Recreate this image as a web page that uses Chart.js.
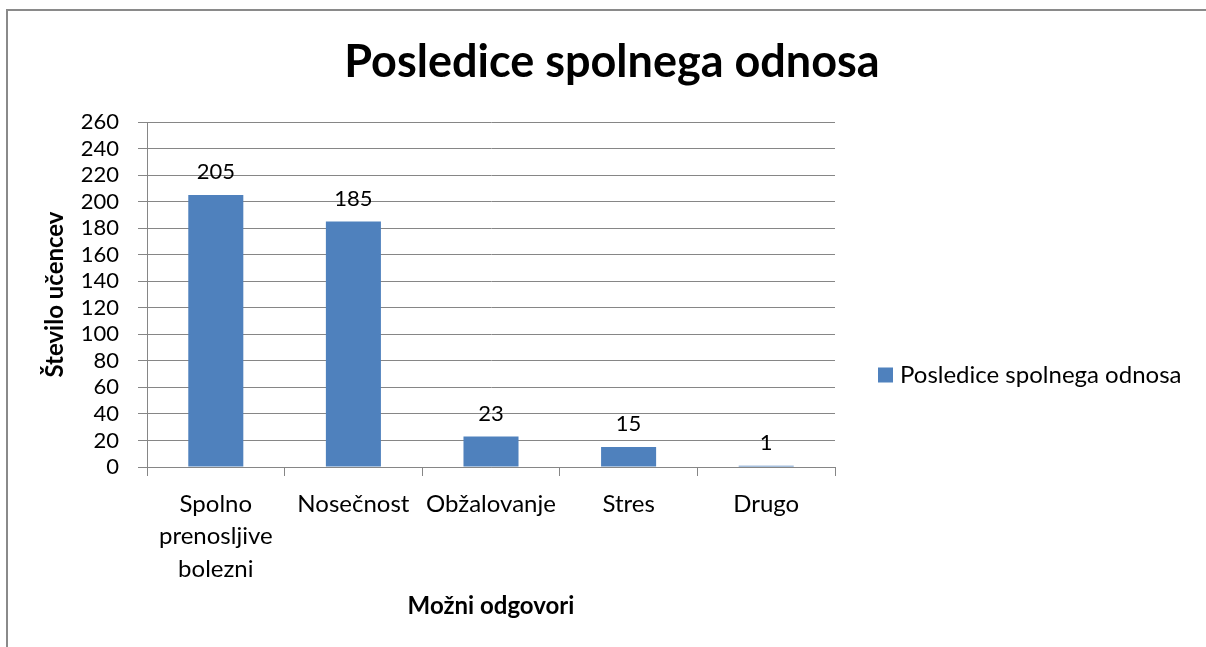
<!DOCTYPE html>
<html>
<head>
<meta charset="utf-8">
<script src="https://cdn.jsdelivr.net/npm/chart.js@4/dist/chart.umd.min.js"></script>
<style>
  html, body { margin: 0; padding: 0; background: #fff; overflow: hidden; }
  #c { display: block; }
</style>
</head>
<body>
<canvas id="c" width="1206" height="647"></canvas>
<script>
const chartTitle = "Posledice spolnega odnosa";
const seriesLabel = "Posledice spolnega odnosa";
const categories = [["Spolno", "prenosljive", "bolezni"], "Nosečnost", "Obžalovanje", "Stres", "Drugo"];
const values = [205, 185, 23, 15, 1];
const yAxisTitle = "Število učencev";
const xAxisTitle = "Možni odgovori";
const yMin = 0, yMax = 260, yStep = 20;

const FONT = "Lato, 'Liberation Sans', sans-serif";
const BAR = "#4F81BD";
const GRID = "#868686";

const framePlugin = {
  id: 'frame',
  beforeDraw(chart) {
    const ctx = chart.ctx;
    ctx.save();
    ctx.fillStyle = '#fff';
    ctx.fillRect(0, 0, chart.width, chart.height);
    ctx.strokeStyle = '#8a8a8a';
    ctx.lineWidth = 2;
    ctx.beginPath();
    ctx.moveTo(7, chart.height);
    ctx.lineTo(7, 10);
    ctx.lineTo(chart.width, 10);
    ctx.stroke();
    ctx.restore();
  }
};

const valueLabels = {
  id: 'valueLabels',
  afterDatasetsDraw(chart) {
    const ctx = chart.ctx;
    ctx.save();
    ctx.font = "22px " + FONT;
    ctx.fillStyle = '#000';
    ctx.textAlign = 'center';
    ctx.textBaseline = 'bottom';
    chart.data.datasets.forEach((ds, di) => {
      chart.getDatasetMeta(di).data.forEach((bar, i) => {
        ctx.fillText(String(ds.data[i]), bar.x, bar.y - 12);
      });
    });
    ctx.restore();
  }
};

const sideLegend = {
  id: 'sideLegend',
  afterDraw(chart) {
    const ctx = chart.ctx;
    const ds = chart.data.datasets[0];
    const cy = 375;
    ctx.save();
    ctx.fillStyle = ds.backgroundColor;
    ctx.fillRect(878, cy - 7.5, 15, 15);
    ctx.fillStyle = '#000';
    ctx.font = "24px " + FONT;
    ctx.textAlign = 'left';
    ctx.textBaseline = 'middle';
    ctx.fillText(ds.label, 900, cy);
    ctx.restore();
  }
};

new Chart(document.getElementById('c'), {
  type: 'bar',
  data: {
    labels: categories,
    datasets: [{
      label: seriesLabel,
      data: values,
      backgroundColor: BAR,
      borderWidth: 0,
      categoryPercentage: 1.0,
      barPercentage: 0.4
    }]
  },
  options: {
    responsive: false,
    animation: false,
    devicePixelRatio: 1,
    layout: { padding: { left: 20, top: 10, right: 2, bottom: 10 } },
    plugins: {
      legend: { display: false },
      tooltip: { enabled: false },
      title: {
        display: true,
        text: chartTitle,
        color: '#000',
        font: { family: FONT, size: 45, weight: 'bold' },
        padding: { top: 25, bottom: 33 }
      }
    },
    scales: {
      x: {
        afterFit(scale) { scale.height = 637 - 467; },
        grid: {
          display: true,
          drawOnChartArea: false,
          drawTicks: true,
          tickLength: 9,
          color: GRID,
          offset: true
        },
        border: { display: true, color: GRID, width: 1 },
        ticks: {
          color: '#000',
          font: { family: FONT, size: 24, lineHeight: 1.35 },
          padding: 12,
          maxRotation: 0,
          autoSkip: false
        },
        title: {
          display: true,
          text: xAxisTitle,
          color: '#000',
          font: { family: FONT, size: 24, weight: 'bold' },
          padding: { top: 0, bottom: 16 }
        }
      },
      y: {
        min: yMin,
        max: yMax,
        afterFit(scale) { scale.width = 147 - 20; },
        grid: {
          color: GRID,
          drawTicks: true,
          tickLength: 9
        },
        border: { display: true, color: GRID, width: 1 },
        ticks: {
          stepSize: yStep,
          autoSkip: false,
          color: '#000',
          font: { family: FONT, size: 22 },
          padding: 19
        },
        title: {
          display: true,
          text: yAxisTitle,
          color: '#000',
          font: { family: FONT, size: 24, weight: 'bold' },
          padding: { top: 21, bottom: 0 }
        }
      },
      legendSpace: {
        type: 'linear',
        position: 'right',
        display: true,
        afterFit(scale) { scale.width = 1206 - 2 - 835; },
        grid: { display: false, drawTicks: false },
        border: { display: false },
        ticks: { display: false }
      }
    }
  },
  plugins: [framePlugin, valueLabels, sideLegend]
});
</script>
</body>
</html>
